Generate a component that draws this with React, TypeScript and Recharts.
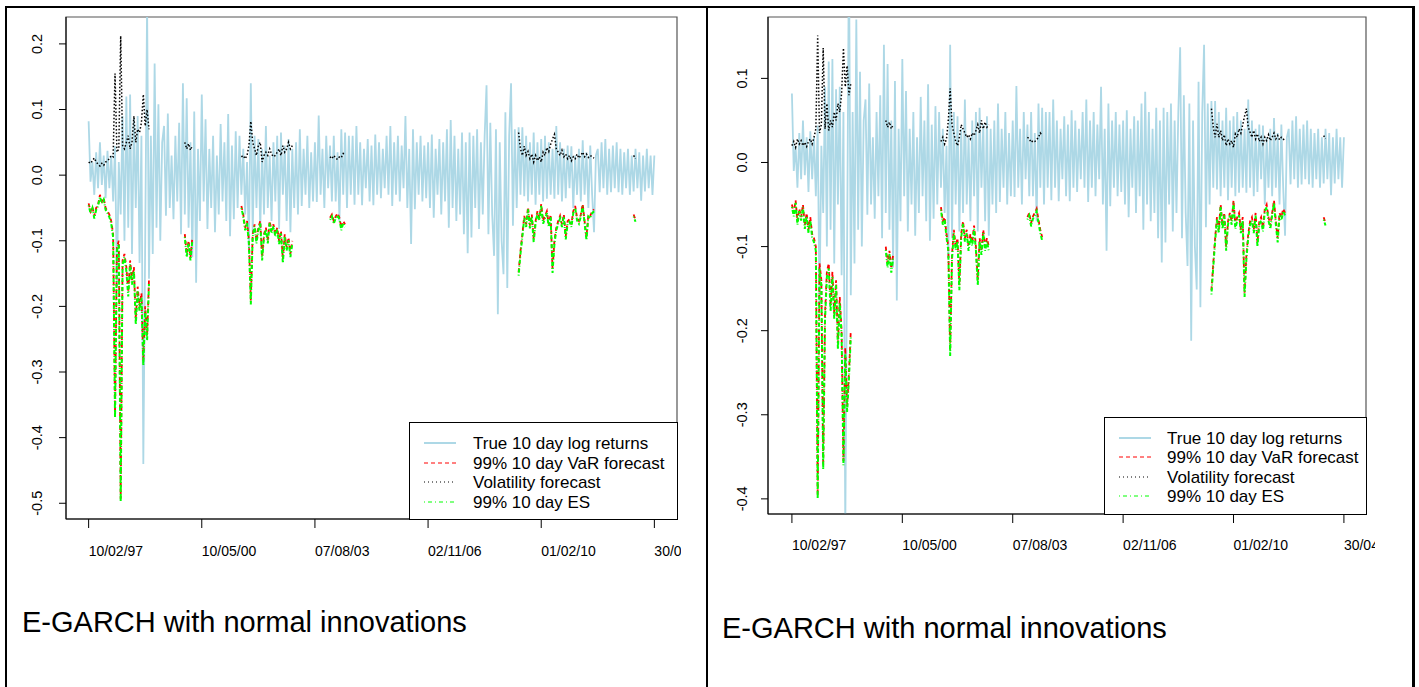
import { LineChart, Line, XAxis, YAxis, ReferenceArea } from "recharts";

const FONT = '"Liberation Sans", Arial, Helvetica, sans-serif';

const tickIndex = [0, 60, 120, 180, 240, 300];
const tickLabels = ["10/02/97", "10/05/00", "07/08/03", "02/11/06", "01/02/10", "30/04/13"];
const legendLabels = ["True 10 day log returns", "99% 10 day VaR forecast", "Volatility forecast", "99% 10 day ES"];
const caption = "E-GARCH with normal innovations";
const yTicksLeft = [-0.5, -0.4, -0.3, -0.2, -0.1, 0, 0.1, 0.2];
const yTicksRight = [-0.4, -0.3, -0.2, -0.1, 0, 0.1];

// true 10 day log returns (same series in both panels)
const returns = [
  0.082, -0.01, 0.02, -0.03, 0.035, -0.02, 0.05, -0.015, 0.03, -0.035,
  0.037, -0.02, 0.03, -0.04, 0.044, -0.17, 0.02, -0.06, 0.09, -0.1,
  0.12, -0.08, 0.123, -0.12, 0.087, -0.05, 0.09, -0.134, 0.06, -0.44,
  -0.1, 0.26, -0.158, 0.06, -0.12, 0.17, -0.08, 0.108, -0.1, 0.05,
  0.075, -0.062, 0.094, -0.05, 0.03, -0.067, 0.06, -0.04, 0.08, -0.09,
  0.14, -0.06, 0.117, -0.08, 0.05, -0.125, 0.097, -0.164, 0.04, -0.07,
  0.123, -0.04, 0.085, -0.082, 0.04, -0.05, 0.06, -0.087, 0.03, -0.06,
  0.078, -0.04, 0.05, -0.07, 0.093, -0.093, 0.045, -0.067, 0.067, -0.05,
  0.06, -0.03, 0.04, -0.06, 0.02, -0.115, 0.14, -0.09, 0.06, -0.05,
  0.055, -0.082, 0.04, -0.06, 0.075, -0.05, 0.03, -0.07, 0.05, -0.04,
  0.06, -0.082, 0.065, -0.03, 0.045, -0.07, 0.055, -0.087, 0.04, -0.05,
  0.05, -0.06, 0.07, -0.047, 0.04, -0.03, 0.06, -0.05, 0.035, -0.04,
  0.05, -0.041, 0.091, -0.03, 0.04, -0.05, 0.06, -0.02, 0.045, -0.04,
  0.06, -0.04, 0.035, -0.07, 0.07, -0.03, 0.065, -0.05, 0.06, -0.03,
  0.06, -0.045, 0.075, -0.03, 0.05, -0.046, 0.04, -0.02, 0.055, -0.04,
  0.045, -0.046, 0.062, -0.03, 0.05, -0.035, 0.04, -0.02, 0.06, -0.03,
  0.075, -0.047, 0.05, -0.03, 0.06, -0.04, 0.045, -0.02, 0.09, -0.05,
  0.04, -0.105, 0.07, -0.052, 0.05, -0.03, 0.06, -0.04, 0.045, -0.035,
  0.05, -0.05, 0.062, -0.065, 0.04, -0.03, 0.055, -0.06, 0.05, -0.04,
  0.07, -0.08, 0.084, -0.05, 0.06, -0.07, 0.04, -0.06, 0.065, -0.09,
  0.05, -0.119, 0.065, -0.095, 0.06, -0.05, 0.07, -0.082, 0.05, -0.06,
  0.06, 0.137, -0.09, 0.08, -0.06, -0.123, 0.07, -0.212, 0.05, -0.1,
  -0.151, 0.096, -0.172, 0.06, 0.14, -0.077, 0.07, -0.05, 0.073, -0.03,
  0.073, -0.032, 0.06, -0.04, 0.05, -0.03, 0.065, -0.045, 0.05, -0.03,
  0.055, -0.04, 0.06, -0.036, 0.05, -0.03, 0.04, -0.036, 0.075, -0.03,
  0.05, -0.04, 0.04, -0.035, 0.045, -0.02, 0.044, -0.05, 0.03, -0.03,
  0.04, -0.04, 0.053, -0.03, 0.035, -0.05, 0.045, -0.03, -0.087, 0.03,
  0.04, -0.026, 0.05, -0.02, 0.055, -0.03, 0.04, -0.026, 0.045, -0.02,
  0.05, -0.026, 0.04, -0.03, 0.035, -0.02, 0.04, -0.03, 0.03, -0.025,
  0.04, -0.02, 0.035, -0.039, 0.03, -0.025, 0.04, -0.02, 0.03, -0.03, 0.03,
];

// forecasts only exist in a few windows; each window starts at these indices
const segStarts = [0, 51, 81, 128, 228, 289];

// left panel
const varLeft = [
  [-0.043, -0.055, -0.048, -0.062, -0.05, -0.045, -0.03, -0.04, -0.035, -0.05, -0.055, -0.06, -0.07, -0.09, -0.363, -0.11, -0.1, -0.493, -0.13, -0.12, -0.14, -0.178, -0.13, -0.16, -0.14, -0.22, -0.17, -0.2, -0.18, -0.283, -0.2, -0.245, -0.16],
  [-0.09, -0.12, -0.1, -0.125, -0.095],
  [-0.047, -0.06, -0.08, -0.07, -0.1, -0.191, -0.09, -0.075, -0.1, -0.08, -0.07, -0.125, -0.09, -0.08, -0.1, -0.07, -0.085, -0.075, -0.09, -0.08, -0.1, -0.085, -0.128, -0.09, -0.11, -0.095, -0.12, -0.1],
  [-0.065, -0.06, -0.07, -0.063, -0.058, -0.065, -0.08, -0.07, -0.075],
  [-0.148, -0.116, -0.09, -0.062, -0.075, -0.049, -0.077, -0.06, -0.097, -0.07, -0.055, -0.065, -0.044, -0.07, -0.062, -0.055, -0.075, -0.06, -0.143, -0.1, -0.08, -0.07, -0.062, -0.075, -0.06, -0.093, -0.07, -0.067, -0.075, -0.055, -0.047, -0.065, -0.07, -0.06, -0.044, -0.07, -0.094, -0.06, -0.062, -0.055, -0.052],
  [-0.06, -0.068],
];
const esLeft = [
  [-0.046, -0.058, -0.05, -0.066, -0.053, -0.047, -0.033, -0.043, -0.037, -0.053, -0.058, -0.064, -0.074, -0.095, -0.37, -0.115, -0.105, -0.498, -0.136, -0.125, -0.146, -0.185, -0.136, -0.167, -0.146, -0.228, -0.177, -0.208, -0.187, -0.29, -0.207, -0.252, -0.166],
  [-0.094, -0.125, -0.104, -0.13, -0.099],
  [-0.05, -0.063, -0.084, -0.073, -0.105, -0.197, -0.094, -0.078, -0.104, -0.084, -0.073, -0.13, -0.094, -0.083, -0.104, -0.073, -0.089, -0.078, -0.094, -0.083, -0.105, -0.089, -0.134, -0.094, -0.115, -0.099, -0.125, -0.104],
  [-0.068, -0.063, -0.074, -0.066, -0.061, -0.068, -0.084, -0.073, -0.079],
  [-0.153, -0.12, -0.094, -0.065, -0.079, -0.052, -0.081, -0.063, -0.102, -0.074, -0.058, -0.069, -0.047, -0.074, -0.066, -0.058, -0.079, -0.064, -0.149, -0.105, -0.084, -0.074, -0.066, -0.079, -0.063, -0.098, -0.074, -0.071, -0.079, -0.058, -0.05, -0.069, -0.074, -0.063, -0.047, -0.074, -0.099, -0.063, -0.066, -0.058, -0.055],
  [-0.063, -0.071],
];
const volLeft = [
  [0.02, 0.018, 0.022, 0.026, 0.02, 0.017, 0.014, 0.018, 0.015, 0.02, 0.022, 0.025, 0.03, 0.028, 0.155, 0.035, 0.04, 0.212, 0.045, 0.04, 0.05, 0.06, 0.04, 0.05, 0.09, 0.05, 0.07, 0.065, 0.08, 0.123, 0.075, 0.1, 0.07],
  [0.05, 0.04, 0.048, 0.038, 0.045],
  [0.028, 0.03, 0.025, 0.03, 0.045, 0.082, 0.05, 0.04, 0.03, 0.045, 0.05, 0.02, 0.03, 0.035, 0.03, 0.04, 0.032, 0.028, 0.03, 0.035, 0.04, 0.03, 0.045, 0.035, 0.04, 0.05, 0.04, 0.045],
  [0.028, 0.025, 0.03, 0.026, 0.024, 0.028, 0.027, 0.033, 0.03],
  [0.065, 0.04, 0.03, 0.044, 0.03, 0.036, 0.025, 0.032, 0.02, 0.03, 0.022, 0.028, 0.02, 0.035, 0.03, 0.042, 0.036, 0.047, 0.055, 0.062, 0.04, 0.035, 0.03, 0.038, 0.028, 0.032, 0.025, 0.03, 0.022, 0.028, 0.025, 0.032, 0.026, 0.03, 0.035, 0.028, 0.032, 0.027, 0.03, 0.028, 0.026],
  [0.03, 0.025],
];

// right panel
const varRight = [
  [-0.05, -0.06, -0.045, -0.07, -0.055, -0.065, -0.05, -0.075, -0.06, -0.08, -0.065, -0.085, -0.09, -0.1, -0.396, -0.12, -0.14, -0.36, -0.18, -0.13, -0.12, -0.17, -0.13, -0.18, -0.14, -0.215, -0.16, -0.2, -0.355, -0.22, -0.29, -0.25, -0.2],
  [-0.1, -0.12, -0.105, -0.126, -0.11],
  [-0.053, -0.07, -0.065, -0.085, -0.1, -0.224, -0.11, -0.08, -0.1, -0.09, -0.146, -0.085, -0.07, -0.09, -0.08, -0.1, -0.085, -0.095, -0.075, -0.1, -0.14, -0.09, -0.105, -0.08, -0.1, -0.09, -0.1],
  [-0.065, -0.06, -0.072, -0.064, -0.06, -0.055, -0.068, -0.08, -0.089],
  [-0.152, -0.12, -0.09, -0.065, -0.08, -0.05, -0.075, -0.06, -0.1, -0.07, -0.06, -0.07, -0.045, -0.075, -0.065, -0.06, -0.08, -0.065, -0.155, -0.11, -0.085, -0.07, -0.065, -0.08, -0.06, -0.095, -0.07, -0.065, -0.078, -0.055, -0.05, -0.065, -0.075, -0.06, -0.045, -0.07, -0.09, -0.06, -0.065, -0.055, -0.06],
  [-0.065, -0.072],
];
const esRight = [
  [-0.053, -0.064, -0.048, -0.074, -0.058, -0.069, -0.053, -0.079, -0.064, -0.084, -0.069, -0.089, -0.095, -0.105, -0.4, -0.126, -0.146, -0.365, -0.187, -0.136, -0.126, -0.177, -0.136, -0.187, -0.146, -0.222, -0.167, -0.207, -0.36, -0.228, -0.297, -0.257, -0.207],
  [-0.104, -0.125, -0.109, -0.131, -0.114],
  [-0.056, -0.074, -0.068, -0.089, -0.105, -0.23, -0.115, -0.084, -0.104, -0.094, -0.152, -0.089, -0.073, -0.094, -0.084, -0.105, -0.089, -0.099, -0.079, -0.105, -0.146, -0.094, -0.11, -0.084, -0.105, -0.094, -0.105],
  [-0.068, -0.063, -0.076, -0.067, -0.063, -0.058, -0.072, -0.084, -0.093],
  [-0.157, -0.124, -0.094, -0.068, -0.084, -0.053, -0.079, -0.063, -0.105, -0.074, -0.063, -0.074, -0.048, -0.079, -0.069, -0.063, -0.084, -0.069, -0.16, -0.115, -0.089, -0.074, -0.069, -0.084, -0.063, -0.1, -0.074, -0.069, -0.082, -0.058, -0.053, -0.069, -0.079, -0.063, -0.048, -0.074, -0.095, -0.063, -0.069, -0.058, -0.063],
  [-0.068, -0.075],
];
const volRight = [
  [0.02, 0.025, 0.018, 0.028, 0.022, 0.026, 0.02, 0.024, 0.019, 0.025, 0.028, 0.022, 0.03, 0.04, 0.151, 0.035, 0.045, 0.136, 0.04, 0.07, 0.038, 0.05, 0.042, 0.06, 0.05, 0.07, 0.06, 0.082, 0.136, 0.09, 0.115, 0.08, 0.094],
  [0.05, 0.042, 0.048, 0.04, 0.045],
  [0.025, 0.03, 0.022, 0.028, 0.05, 0.088, 0.045, 0.035, 0.025, 0.02, 0.03, 0.045, 0.04, 0.035, 0.03, 0.033, 0.028, 0.035, 0.032, 0.038, 0.045, 0.035, 0.05, 0.04, 0.048, 0.042, 0.045],
  [0.03, 0.028, 0.024, 0.026, 0.025, 0.027, 0.03, 0.035, 0.032],
  [0.064, 0.042, 0.03, 0.046, 0.03, 0.038, 0.026, 0.033, 0.02, 0.028, 0.022, 0.026, 0.018, 0.034, 0.03, 0.04, 0.035, 0.045, 0.055, 0.064, 0.042, 0.036, 0.03, 0.038, 0.028, 0.034, 0.025, 0.03, 0.022, 0.03, 0.026, 0.033, 0.026, 0.03, 0.035, 0.028, 0.032, 0.027, 0.03, 0.028, 0.026],
  [0.032, 0.028],
];

function spread(segs: number[][]) {
  const out: (number | null)[] = returns.map(() => null);
  segs.forEach((vals, k) => vals.forEach((v, j) => { out[segStarts[k] + j] = v; }));
  return out;
}

function buildRows(v: number[][], vol: number[][], es: number[][]) {
  const a = spread(v), b = spread(vol), c = spread(es);
  return returns.map((r, i) => ({ t: i, ret: r, vaR: a[i], vol: b[i], es: c[i] }));
}

const rowsLeft = buildRows(varLeft, volLeft, esLeft);
const rowsRight = buildRows(varRight, volRight, esRight);

type PanelProps = {
  left: number;
  width: number;
  height: number;
  margin: { top: number; right: number; bottom: number; left: number };
  xDomain: [number, number];
  yDomain: [number, number];
  yTicks: number[];
  yLabelX: number;
  xLabelY: number;
  rows: any[];
};

function Panel({ left, width, height, margin, xDomain, yDomain, yTicks, yLabelX, xLabelY, rows }: PanelProps) {
  return (
    <div style={{ position: "absolute", left, top: 8 }}>
      <LineChart width={width} height={height} data={rows} margin={margin}>
        <XAxis
          type="number"
          dataKey="t"
          domain={xDomain}
          ticks={tickIndex}
          interval={0}
          allowDataOverflow
          height={40}
          tickSize={9}
          axisLine={{ stroke: "#000" }}
          tickLine={{ stroke: "#000" }}
          tick={(p: any) => (
            <text x={p.x} y={xLabelY} textAnchor="start" fontSize={14} fontFamily={FONT} fill="#000">
              {tickLabels[tickIndex.indexOf(p.payload.value)]}
            </text>
          )}
        />
        <YAxis
          type="number"
          domain={yDomain}
          ticks={yTicks}
          interval={0}
          allowDataOverflow
          width={50}
          tickSize={7}
          axisLine={{ stroke: "#000" }}
          tickLine={{ stroke: "#000" }}
          tick={(p: any) => (
            <text
              x={yLabelX}
              y={p.y}
              transform={`rotate(-90 ${yLabelX} ${p.y})`}
              textAnchor="middle"
              fontSize={14.5}
              fontFamily={FONT}
              fill="#000"
            >
              {Number(p.payload.value).toFixed(1)}
            </text>
          )}
        />
        <ReferenceArea
          x1={xDomain[0]}
          x2={xDomain[1]}
          y1={yDomain[0]}
          y2={yDomain[1]}
          fill="none"
          stroke="#555"
          strokeWidth={1.2}
          ifOverflow="visible"
        />
        <Line dataKey="ret" stroke="#ADD8E6" strokeWidth={1.8} dot={false} activeDot={false} isAnimationActive={false} />
        <Line dataKey="vaR" stroke="#FF0000" strokeWidth={1.8} strokeDasharray="4 3" dot={false} activeDot={false} isAnimationActive={false} />
        <Line dataKey="vol" stroke="#000" strokeWidth={1.5} strokeDasharray="1.5 2" dot={false} activeDot={false} isAnimationActive={false} />
        <Line dataKey="es" stroke="#00FF00" strokeWidth={2} strokeDasharray="1 2 4 2" dot={false} activeDot={false} isAnimationActive={false} />
      </LineChart>
    </div>
  );
}

const legendStyles = [
  { stroke: "#ADD8E6", dash: undefined, w: 2 },
  { stroke: "#FF0000", dash: "4 3", w: 1 },
  { stroke: "#000", dash: "1 3", w: 1 },
  { stroke: "#00FF00", dash: "1 3 4 3", w: 1 },
];

function LegendBox({ x, y, w, h, rowsY, textX }: { x: number; y: number; w: number; h: number; rowsY: number[]; textX: number }) {
  return (
    <svg style={{ position: "absolute", left: x, top: y }} width={w + 1} height={h + 1}>
      <rect x={0.5} y={0.5} width={w} height={h} fill="#fff" stroke="#000" strokeWidth={1} />
      {legendLabels.map((label, k) => (
        <g key={label}>
          <line
            x1={15}
            x2={47}
            y1={rowsY[k]}
            y2={rowsY[k]}
            stroke={legendStyles[k].stroke}
            strokeWidth={legendStyles[k].w}
            strokeDasharray={legendStyles[k].dash}
          />
          <text x={textX} y={rowsY[k]} dominantBaseline="central" fontSize={17} fontFamily={FONT} fill="#000">
            {label}
          </text>
        </g>
      ))}
    </svg>
  );
}

export default function App() {
  return (
    <div
      style={{
        position: "absolute",
        left: 0,
        top: 0,
        width: 1419,
        height: 687,
        background: "#fff",
        overflow: "hidden",
        fontFamily: FONT,
      }}
    >
      {/* table borders */}
      <div style={{ position: "absolute", left: 5, top: 6, width: 1410, height: 2, background: "#000" }} />
      <div style={{ position: "absolute", left: 5, top: 6, width: 2, height: 681, background: "#000" }} />
      <div style={{ position: "absolute", left: 706, top: 6, width: 2, height: 681, background: "#000" }} />
      <div style={{ position: "absolute", left: 1412, top: 6, width: 3, height: 681, background: "#000" }} />

      <Panel
        left={8}
        width={673}
        height={560}
        margin={{ top: 9, right: 4, bottom: 9, left: 8 }}
        xDomain={[-12, 312]}
        yDomain={[-0.524, 0.241]}
        yTicks={yTicksLeft}
        yLabelX={34}
        xLabelY={548}
        rows={rowsLeft}
      />
      <LegendBox x={409} y={422} w={268} h={97} rowsY={[21, 41, 60, 80]} textX={64} />
      <div style={{ position: "absolute", left: 22, top: 608, fontSize: 29, lineHeight: "29px", whiteSpace: "nowrap", color: "#000" }}>
        {caption}
      </div>

      <Panel
        left={712}
        width={663}
        height={552}
        margin={{ top: 9, right: 9, bottom: 6, left: 6 }}
        xDomain={[-13, 312]}
        yDomain={[-0.418, 0.173]}
        yTicks={yTicksRight}
        yLabelX={35}
        xLabelY={542}
        rows={rowsRight}
      />
      <LegendBox x={1104} y={417} w={262} h={97} rowsY={[21, 40, 60, 79]} textX={63} />
      <div style={{ position: "absolute", left: 722, top: 614, fontSize: 29, lineHeight: "29px", whiteSpace: "nowrap", color: "#000" }}>
        {caption}
      </div>
    </div>
  );
}
